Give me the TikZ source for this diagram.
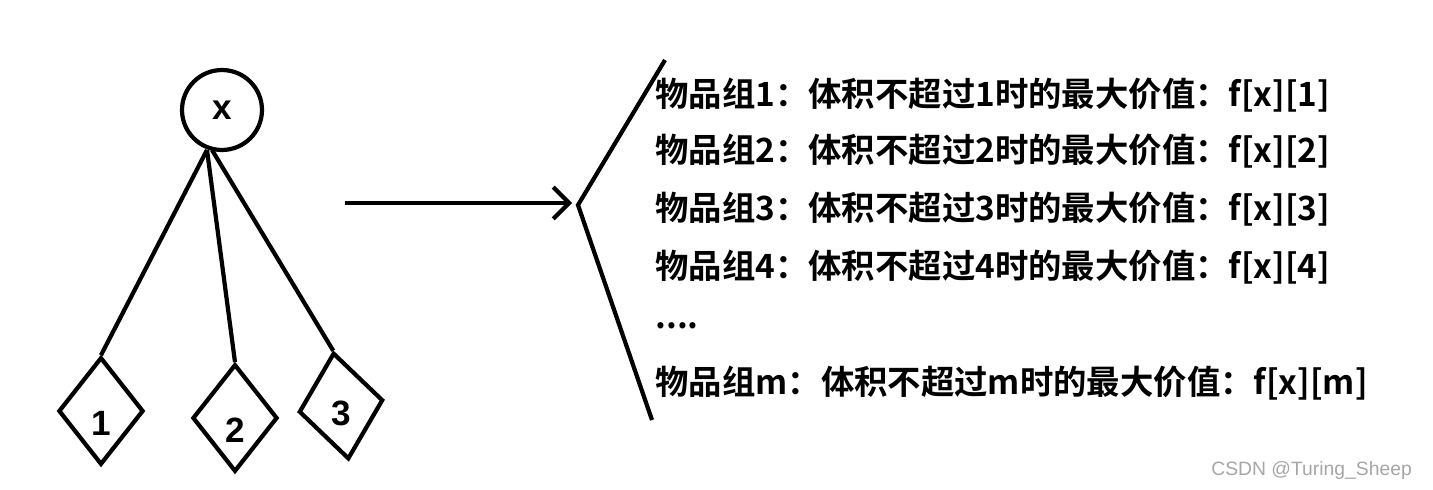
\documentclass[tikz,border=0pt]{standalone}
\usepackage{fontspec}
\setmainfont{Liberation Sans}
\newfontfamily\cjk{Noto Sans CJK SC}[BoldFont={Noto Sans CJK SC Bold}]
\usetikzlibrary{shapes.geometric,arrows.meta}
\tikzset{
  stroke/.style={line width=2.4pt},
  leaf/.style={diamond,draw,stroke,minimum width=1.7cm,minimum height=2.15cm,inner sep=0pt},
  leaflab/.style={font=\bfseries\fontsize{20}{20}\selectfont,yshift=-0.25cm},
  item/.style={anchor=west,inner sep=0pt,font=\cjk\bfseries\fontsize{19}{19}\selectfont}
}
\begin{document}
\begin{tikzpicture}[x=0.02cm,y=-0.02cm]
  \useasboundingbox (0,0) rectangle (1433,490);
  % Root
  \node[circle,draw,stroke,minimum size=1.6cm,font=\bfseries\fontsize{20}{20}\selectfont] (root) at (222,110) {x};
  % Leaves
  \node[leaf] (g1) at (101,411) {};
  \node[leaf] (g2) at (235,418) {};
  \node[leaf,rotate=8] (g3) at (341,406) {};
  \node[leaflab] (l1) at (g1.center) {1};
  \node[leaflab] (l2) at (g2.center) {2};
  \node[leaflab,yshift=0.1cm] (l3) at (g3.center) {3};
  \coordinate (r1) at (207,150);
  \coordinate (r2) at (212,150);
  \draw[stroke] (r1) -- (g1.north);
  \draw[stroke] (r1) -- (g2.north);
  \draw[stroke] (r2) -- (g3.north);
  % Arrow
  \coordinate (a1) at (345,203);
  \coordinate (a2) at (572,203);
  \draw[stroke,-{Straight Barb[length=9pt,width=18pt]}] (a1) -- (a2);
  % Bracket
  \coordinate (b1) at (665,60);
  \coordinate (b2) at (578,205);
  \coordinate (b3) at (652,420);
  \draw[stroke] (b1) -- (b2) -- (b3);
  % Items
  \node[item] (t1) at (655,95) {物品组1：体积不超过1时的最大价值：f[x][1]};
  \node[item] (t2) at (655,151) {物品组2：体积不超过2时的最大价值：f[x][2]};
  \node[item] (t3) at (655,209) {物品组3：体积不超过3时的最大价值：f[x][3]};
  \node[item] (t4) at (655,267) {物品组4：体积不超过4时的最大价值：f[x][4]};
  \node[item] (t5) at (655,326) {....};
  \node[item] (tm) at (655,383) {物品组m：体积不超过m时的最大价值：f[x][m]};
  % Watermark
  \node[anchor=east,text=gray!70,font=\fontsize{11}{11}\selectfont] (wm) at (1418,470) {CSDN @Turing\_Sheep};
\end{tikzpicture}
\end{document}
